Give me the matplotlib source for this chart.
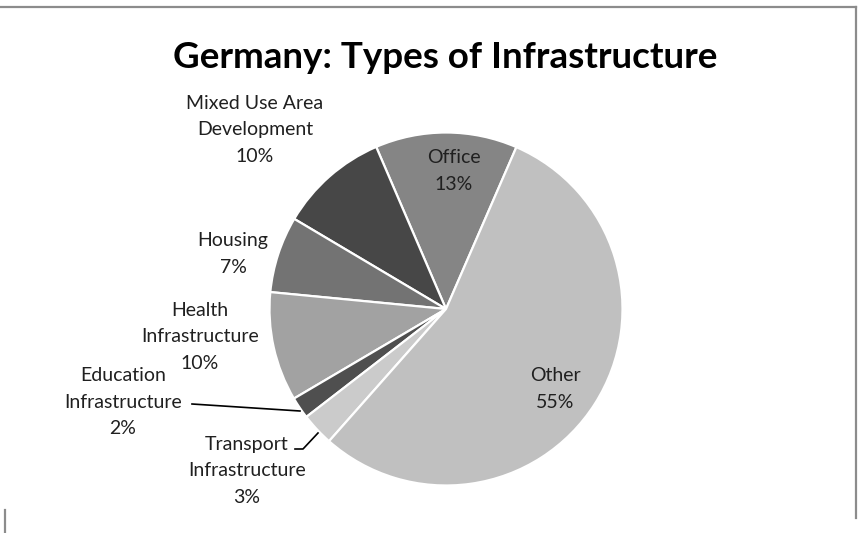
import matplotlib
matplotlib.use("Agg")
import matplotlib.pyplot as plt
from matplotlib.lines import Line2D

# Share of infrastructure types (percent), listed counter-clockwise
categories = ["Office", "Mixed Use Area\nDevelopment", "Housing",
              "Health\nInfrastructure", "Education\nInfrastructure",
              "Transport\nInfrastructure", "Other"]
values = [13, 10, 7, 10, 2, 3, 55]
colors = ["#858585", "#474747", "#737373", "#a2a2a2", "#4f4f4f", "#cbcbcb", "#c0c0c0"]

# Label anchor points in pixel coordinates (x from left, y from top)
label_pos = [(454, 171), (255, 130), (233, 254), (200, 337),
             (123, 402), (247, 471), (555, 389)]

W, H = 868, 533
fig = plt.figure(figsize=(W / 100, H / 100), dpi=100)
ax = fig.add_axes([0, 0, 1, 1])

FONT = "Lato"

def py(y):
    return H - y

cx, cy, r = 446, py(309), 176.5
wedges, _ = ax.pie(values, colors=colors, startangle=66.5, counterclock=True,
                   center=(cx, cy), radius=r, frame=True,
                   wedgeprops=dict(edgecolor="white", linewidth=1.6))
ax.set_xlim(0, W)
ax.set_ylim(0, H)
ax.set_aspect("equal")
ax.axis("off")

# chart frame
frame_kw = dict(color="#8c8c8c", lw=1.6)
ax.add_line(Line2D([0, 856], [py(7), py(7)], **frame_kw))
ax.add_line(Line2D([856, 856], [py(7), py(518)], **frame_kw))
ax.add_line(Line2D([5, 5], [py(510), py(533)], **frame_kw))

ax.text(445, py(57), "Germany: Types of Infrastructure", ha="center", va="center",
        fontsize=26.5, fontweight="bold", family=FONT, color="#000000")

for cat, v, (lx, ly) in zip(categories, values, label_pos):
    ax.text(lx, py(ly), f"{cat}\n{v}%", ha="center", va="center",
            fontsize=14, family=FONT, color="#202020", linespacing=1.7)

# leader lines for the two thin slices
ax.add_line(Line2D([192, 300], [py(404), py(411)], color="black", lw=1.2))
ax.add_line(Line2D([295, 303, 318], [py(449), py(449), py(433)], color="black", lw=1.2))

fig.savefig("out.png", dpi=100)
